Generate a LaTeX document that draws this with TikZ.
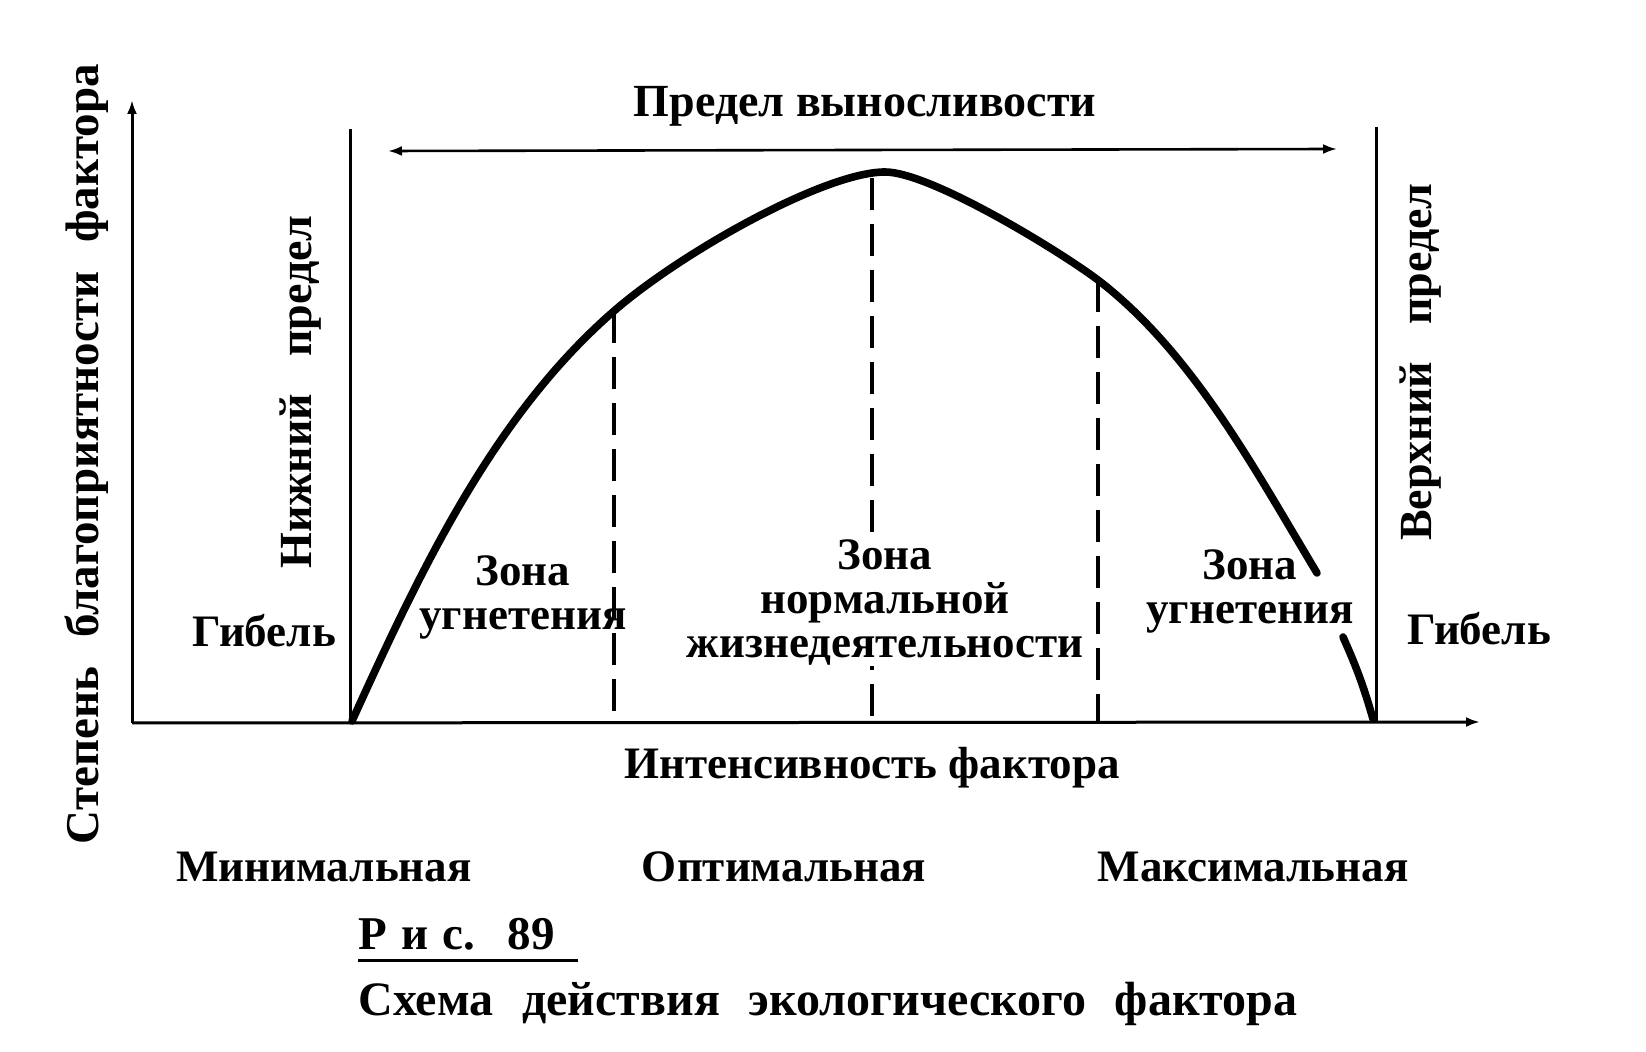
\documentclass[tikz,border=0pt]{standalone}
\usepackage{fontspec}
\setmainfont{Liberation Serif}
\usetikzlibrary{arrows.meta}
\begin{document}
\begin{tikzpicture}[x=0.5pt,y=-0.5pt,
  txt/.style={font=\bfseries\fontsize{23}{22}\selectfont, inner sep=0pt, align=center},
  small/.style={font=\bfseries\fontsize{22.5}{22}\selectfont, inner sep=0pt, align=center},
  axisline/.style={line width=1.5pt},
  limitline/.style={line width=1.5pt},
  zoneline/.style={line width=2.4pt, dash pattern=on 16pt off 7pt},
  curveline/.style={line width=3.8pt, line cap=round},
  tip/.style={-{Latex[length=7pt,width=5pt]}},
  tips/.style={{Latex[length=7pt,width=5pt]}-{Latex[length=7pt,width=5pt]}}
]
\useasboundingbox (0,0) rectangle (1646,1052);
\fill[white] (0,0) rectangle (1646,1052);

% coordinates
\coordinate (O) at (132,723);
\coordinate (Ytop) at (132,100);
\coordinate (Xend) at (1480,722);
\coordinate (L0) at (350,723);
\coordinate (L1) at (350,129);
\coordinate (R0) at (1376,723);
\coordinate (R1) at (1376,127);
\coordinate (A1) at (388,151);
\coordinate (A2) at (1337,149);
\coordinate (D1a) at (614,311);
\coordinate (D1b) at (614,723);
\coordinate (D2a) at (872,178);
\coordinate (D2b) at (872,723);
\coordinate (D3a) at (1098,280);
\coordinate (D3b) at (1098,723);
\coordinate (S) at (352,721);
\coordinate (P) at (885,172);
\coordinate (E) at (1317,573);
\coordinate (G1) at (1343,637);
\coordinate (G2) at (1373,719);

% axes
\draw[axisline, tip] (O) -- (Ytop);
\draw[axisline, tip] (O) -- (Xend);

% limit lines
\draw[limitline] (L0) -- (L1);
\draw[limitline] (R0) -- (R1);

% tolerance range arrow
\draw[line width=1.3pt, tips] (A1) -- (A2);

% zone dividers
\draw[zoneline] (D1a) -- (D1b);
\draw[zoneline] (D2a) -- (D2b);
\draw[zoneline] (D3a) -- (D3b);

% curve
\draw[curveline] (S) .. controls (419,574) and (492,417) .. (D1a)
  .. controls (682,252) and (825,172) .. (P)
  .. controls (930,172) and (1058,250) .. (D3a)
  .. controls (1193,353) and (1255,470) .. (E);
\draw[curveline] (G1) to[bend left=4] (G2);

% labels
\node[txt] (limit) at (865,106) {Предел выносливости};
\node[txt, font=\bfseries\fontsize{23.5}{22}\selectfont, rotate=90] (ylab) at (87,454) {Степень\hspace{0.62em}благоприятности\hspace{0.62em}фактора};
\node[txt, rotate=90] (lower) at (301,392) {Нижний\hspace{0.8em}предел};
\node[txt, rotate=90] (upper) at (1421,362) {Верхний\hspace{0.8em}предел};
\node[small, anchor=base] (deathL) at (264,647) {Гибель};
\node[small, anchor=base] (deathR) at (1479,645) {Гибель};
\node[small] (zoneL) at (523,597) {Зона\\угнетения};
\node[small, fill=white] (zoneM) at (885,603) {Зона\\нормальной\\жизнедеятельности};
\node[small] (zoneR) at (1250,591) {Зона\\угнетения};
\node[small, anchor=base] (xlab) at (872,779) {Интенсивность фактора};
\node[small, anchor=base] (min) at (324,882) {Минимальная};
\node[small, anchor=base] (opt) at (784,882) {Оптимальная};
\node[small, anchor=base] (max) at (1253,882) {Максимальная};
\node[txt, font=\bfseries\fontsize{23.5}{22}\selectfont, anchor=base west] (fig) at (358,950) {Р\hspace{0.3em}и\hspace{0.3em}с.\hspace{0.7em}89};
\coordinate (U1) at (358,961);
\coordinate (U2) at (578,961);
\draw[line width=1.5pt] (U1) -- (U2);
\node[txt, font=\bfseries\fontsize{24}{22}\selectfont, anchor=base west] (caption) at (358,1016) {Схема\hspace{0.6em}действия\hspace{0.6em}экологического\hspace{0.6em}фактора};
\end{tikzpicture}
\end{document}
